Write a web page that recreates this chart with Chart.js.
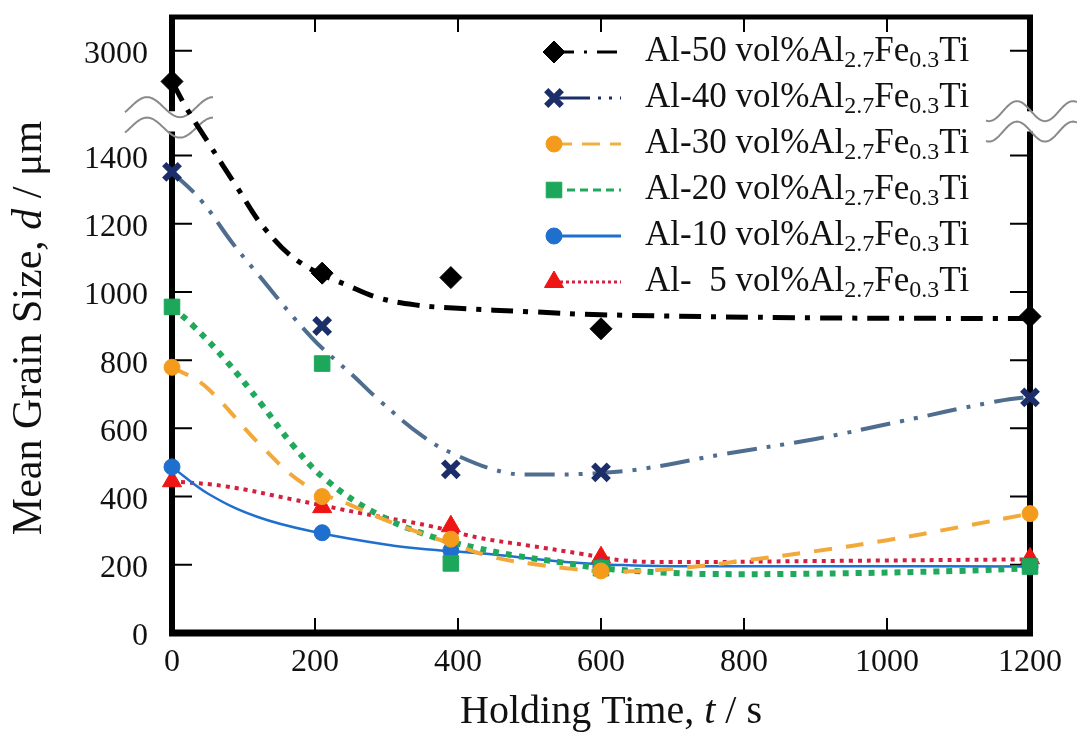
<!DOCTYPE html>
<html>
<head>
<meta charset="utf-8">
<script src="https://cdn.jsdelivr.net/npm/chart.js@4.4.1/dist/chart.umd.min.js"></script>
<style>
  html, body { margin: 0; padding: 0; background: #fff; }
  #wrap { width: 1077px; height: 735px; }
</style>
</head>
<body>
<div id="wrap"><canvas id="chart" width="1077" height="735"></canvas></div>
<script>
// holding times of the samples (s)
const times = [0, 210, 390, 600, 1200];

// measured mean grain size d (um)
const al50 = [2910, 1055, 1042, 892, 928];
const al40 = [1352, 900, 480, 471, 691];
const al30 = [779, 400, 275, 182, 350];
const al20 = [956, 790, 204, 190, 195];
const al10 = [487, 294, 242, 194, 194];
const al5 = [445, 369, 313, 222, 219];

// fitted curves
const fit50T = [0, 20, 50, 90, 130, 180, 250, 290, 340, 400, 500, 600, 900, 1200];
const fit50 = [2910, 1540, 1440, 1310, 1185, 1085, 1015, 982, 962, 952, 942, 933, 924, 922];
const fit40T = [0, 40, 85, 115, 195, 255, 290, 350, 395, 465, 515, 590, 660, 770, 900, 1020, 1145, 1200];
const fit40 = [1352, 1270, 1142, 1065, 867, 751, 682, 578, 524, 471, 465, 468, 482, 524, 569, 621, 676, 693];
const fit30T = [0, 45, 125, 185, 250, 310, 400, 450, 500, 560, 620, 700, 800, 900, 1000, 1100, 1200];
const fit30 = [779, 726, 548, 436, 375, 322, 255, 222, 204, 188, 180, 188, 212, 240, 272, 310, 350];
const fit20T = [0, 30, 75, 125, 170, 215, 285, 360, 425, 480, 545, 600, 680, 750, 900, 1100, 1200];
const fit20 = [956, 900, 800, 671, 548, 450, 351, 285, 250, 227, 207, 190, 178, 173, 174, 182, 190];
const fit10T = [0, 50, 120, 205, 310, 360, 450, 550, 630, 700, 900, 1200];
const fit10 = [487, 409, 340, 294, 256, 245, 230, 208, 199, 196, 196, 195];
const fit5T = [0, 75, 170, 265, 360, 430, 500, 570, 630, 700, 900, 1200];
const fit5 = [445, 430, 391, 351, 314, 279, 256, 233, 213, 208, 211, 216];

const names = ['Al-50', 'Al-40', 'Al-30', 'Al-20', 'Al-10', 'Al-  5'];
const yTicks = [0, 200, 400, 600, 800, 1000, 1200, 1400, 3000];
const xTicks = [0, 200, 400, 600, 800, 1000, 1200];

const serif = '"Liberation Serif", "Times New Roman", serif';
Chart.defaults.font.family = serif;
Chart.defaults.color = '#111';

// the y axis is broken between 1500 and ~2800
const GAP = 1293;
function toAxis(v) { return v > 2000 ? v - GAP : v; }
function fromAxis(v) { return v > 1600 ? v + GAP : v; }
function pts(xs, ys) { return xs.map((x, i) => ({x: x, y: toAxis(ys[i])})); }

const styles = [
  {marker: 'rectRot', r: 11, color: '#000000', bw: 1, line: '#000000', lw: 5, dash: [22, 10, 5, 10], leg: '#000000', legDash: [20, 10, 3, 10]},
  {marker: 'crossRot', r: 11, color: '#1b2e6a', bw: 6, line: '#4f6e8f', lw: 4, dash: [30, 10, 4, 10, 4, 10], leg: '#1b2e6a', legDash: [36, 8, 3, 8, 3, 8]},
  {marker: 'circle', r: 8, color: '#f49b1c', bw: 1, line: '#f3a83a', lw: 4, dash: [18, 14], leg: '#f0b040', legDash: [18, 10]},
  {marker: 'rect', r: 11, color: '#1ca75a', bw: 1, line: '#20a95c', lw: 6, dash: [6, 7], leg: '#20a95c', legDash: [8, 5]},
  {marker: 'circle', r: 8, color: '#1f6fcf', bw: 1, line: '#1f6fcf', lw: 2.5, dash: [], leg: '#1f6fcf', legDash: []},
  {marker: 'triangle', r: 11, color: '#ee1515', bw: 1, line: '#d4203f', lw: 4, dash: [4, 5], leg: '#d4203f', legDash: [3, 3]}
];
const measured = [al50, al40, al30, al20, al10, al5];
const fitT = [fit50T, fit40T, fit30T, fit20T, fit10T, fit5T];
const fitV = [fit50, fit40, fit30, fit20, fit10, fit5];

const datasets = [];
styles.forEach((s, i) => {
  datasets.push({
    label: names[i] + ' fit',
    data: pts(fitT[i], fitV[i]),
    showLine: true,
    borderColor: s.line,
    borderWidth: s.lw,
    borderDash: s.dash,
    pointRadius: 0,
    tension: 0.4,
    fill: false,
    order: 2
  });
  datasets.push({
    label: names[i],
    data: pts(times, measured[i]),
    showLine: false,
    pointStyle: s.marker,
    pointRadius: s.r,
    pointBackgroundColor: s.color,
    pointBorderColor: s.color,
    pointBorderWidth: s.bw,
    clip: false,
    order: 1
  });
});

const frame = {
  id: 'frame',
  beforeDatasetsDraw(chart) {
    const {ctx, chartArea: a, scales: {x, y}} = chart;
    const gapTop = y.getPixelForValue(1530), gapBot = y.getPixelForValue(1470);
    ctx.save();
    ctx.strokeStyle = '#000';
    ctx.lineCap = 'butt';
    // inward ticks
    ctx.lineWidth = 2;
    ctx.beginPath();
    yTicks.forEach(v => {
      if (v === 0) return;
      const py = y.getPixelForValue(toAxis(v));
      ctx.moveTo(a.left, py); ctx.lineTo(a.left + 20, py);
      ctx.moveTo(a.right - 20, py); ctx.lineTo(a.right, py);
    });
    xTicks.forEach(t => {
      if (t === 0 || t === 1200) return;
      const px = x.getPixelForValue(t);
      ctx.moveTo(px, a.bottom); ctx.lineTo(px, a.bottom - 15);
      ctx.moveTo(px, a.top); ctx.lineTo(px, a.top + 15);
    });
    ctx.stroke();
    // frame with broken sides
    ctx.lineWidth = 6;
    ctx.beginPath();
    [a.left, a.right].forEach(px => {
      ctx.moveTo(px, a.bottom + 3); ctx.lineTo(px, gapBot);
      ctx.moveTo(px, gapTop); ctx.lineTo(px, a.top - 2);
    });
    ctx.stroke();
    ctx.lineWidth = 7;
    ctx.beginPath();
    ctx.moveTo(a.left - 3, a.bottom); ctx.lineTo(a.right + 3, a.bottom);
    ctx.stroke();
    ctx.lineWidth = 5;
    ctx.beginPath();
    ctx.moveTo(a.left - 3, a.top); ctx.lineTo(a.right + 3, a.top);
    ctx.stroke();
    // break marks
    ctx.strokeStyle = '#8a8a8a';
    ctx.lineWidth = 2;
    const wave = (x0, x1, peak, per, cy) => {
      ctx.beginPath();
      for (let px = x0; px <= x1; px += 1) {
        const py = cy - 10 * Math.cos(2 * Math.PI * (px - peak) / per);
        if (px === x0) ctx.moveTo(px, py); else ctx.lineTo(px, py);
      }
      ctx.stroke();
    };
    [gapTop - 4, gapBot - 4].forEach(cy => {
      wave(a.left - 47, a.left + 41, a.left - 25, 66, cy);
      wave(a.right - 44, a.right + 47, a.right - 13, 56, cy + 4);
    });
    ctx.restore();
  },
  afterDraw(chart) {
    const {ctx, chartArea: a} = chart;
    ctx.save();
    ctx.fillStyle = '#111';
    ctx.textBaseline = 'middle';
    // legend
    styles.forEach((s, i) => {
      const ly = 52 + 46 * i;
      ctx.strokeStyle = s.leg;
      ctx.lineWidth = 3;
      ctx.setLineDash(s.legDash);
      ctx.beginPath();
      ctx.moveTo(554, ly); ctx.lineTo(621, ly);
      ctx.stroke();
      ctx.setLineDash([]);
      ctx.fillStyle = s.color;
      ctx.strokeStyle = s.color;
      ctx.lineWidth = s.bw;
      Chart.helpers.drawPoint(ctx, {pointStyle: s.marker, radius: s.r, rotation: 0, borderWidth: s.bw}, 554, ly);
      ctx.fillStyle = '#111';
      const parts = [[names[i] + ' vol%Al', 0], ['2.7', 1], ['Fe', 0], ['0.3', 1], ['Ti', 0]];
      let tx = 645;
      parts.forEach(([txt, sub]) => {
        ctx.font = (sub ? '24px ' : '35px ') + serif;
        ctx.fillText(txt, tx, sub ? ly + 9 : ly);
        tx += ctx.measureText(txt).width;
      });
    });
    // axis titles with italic symbols
    const title = (parts, cx, cy, rot, size) => {
      ctx.save();
      ctx.translate(cx, cy);
      ctx.rotate(rot);
      let w = 0;
      parts.forEach(([txt, st]) => { ctx.font = st + size + 'px ' + serif; w += ctx.measureText(txt).width; });
      let tx = -w / 2;
      ctx.textAlign = 'left';
      parts.forEach(([txt, st]) => {
        ctx.font = st + size + 'px ' + serif;
        ctx.fillText(txt, tx, 0);
        tx += ctx.measureText(txt).width;
      });
      ctx.restore();
    };
    title([['Holding Time, ', ''], ['t', 'italic '], [' / s', '']], (a.left + a.right) / 2 + 10, 712, 0, 40);
    title([['Mean Grain Size, ', ''], ['d', 'italic '], [' / \u03bcm', '']], 30, 328, -Math.PI / 2, 42);
    ctx.restore();
  }
};

new Chart(document.getElementById('chart'), {
  type: 'scatter',
  data: {datasets: datasets},
  options: {
    responsive: false,
    devicePixelRatio: 1,
    animation: false,
    events: [],
    layout: {padding: {left: 0, right: 47, top: 13, bottom: 0}},
    plugins: {legend: {display: false}, tooltip: {enabled: false}},
    scales: {
      x: {
        type: 'linear',
        min: 0,
        max: 1200,
        grid: {display: false, drawTicks: false},
        border: {display: false},
        ticks: {stepSize: 200, autoSkip: false, maxRotation: 0, padding: 10, font: {size: 32}, color: '#111',
          callback: (val) => String(val)},
        afterFit(scale) { scale.height = 102; scale.paddingLeft = 0; scale.paddingRight = 0; }
      },
      y: {
        type: 'linear',
        min: 0,
        max: 1806,
        grid: {display: false, drawTicks: false},
        border: {display: false},
        afterBuildTicks(scale) { scale.ticks = yTicks.map(v => ({value: toAxis(v)})); },
        ticks: {
          autoSkip: false,
          padding: 24,
          labelOffset: 4,
          font: {size: 32},
          color: '#111',
          callback: (val) => String(fromAxis(val))
        },
        afterFit(scale) { scale.width = 172; scale.paddingTop = 0; scale.paddingBottom = 0; }
      }
    }
  },
  plugins: [frame]
});
</script>
</body>
</html>
